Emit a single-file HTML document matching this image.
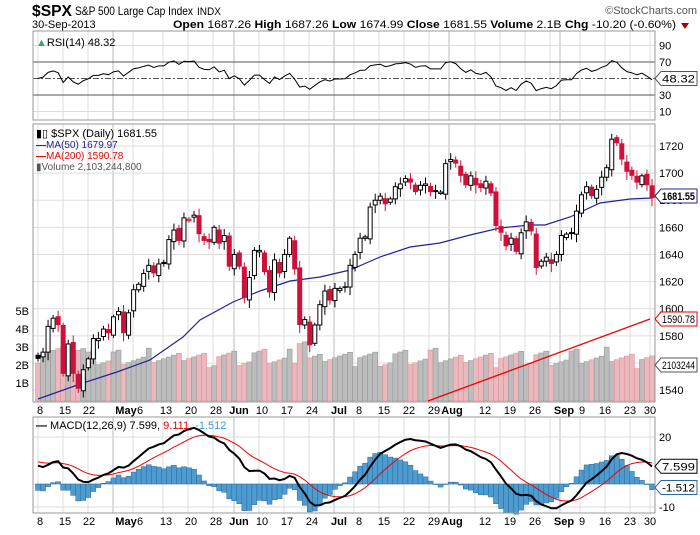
<!DOCTYPE html>
<html><head><meta charset="utf-8"><style>
body{margin:0;background:#fff;width:700px;height:530px;overflow:hidden;font-family:"Liberation Sans",Arial,sans-serif}
svg text{font-family:"Liberation Sans",Arial,sans-serif}
</style></head><body>
<svg id="s" width="700" height="530" xmlns="http://www.w3.org/2000/svg"></svg>
<script>
const C=[1563,1568,1587,1593,1588,1552,1574,1552,1541,1555,1563,1578,1578,1585,1582,1594,1598,
1582,1597,1614,1618,1626,1632,1626,1633,1633,1651,1658,1650,1667,1666,1669,1655,1650,1649,1660,1648,1654,1631,
1640,1631,1608,1623,1643,1643,1627,1612,1636,1626,1640,1652,1629,1588,1592,1573,1588,1603,1613,1606,
1615,1615,1616,1632,1640,1652,1653,1675,1680,1683,1677,1681,1690,1692,1696,1693,1686,1691,1692,1686,1686,1686,
1707,1710,1707,1698,1691,1698,1691,1689,1694,1685,1661,1656,1646,1652,1642,1656,1664,1657,1630,1635,1638,1633,
1640,1654,1655,1655,1672,1684,1690,1683,1688,1697,1704,1725,1722,1710,1701,1698,1693,1698,1691,1681.55];
const N=C.length;
const X=i=>38+i*(614/(N-1));
const Y=p=>146+(1720-p)*1.356;
let s='';
const L=(x1,y1,x2,y2,c,w,d)=>s+=`<line x1="${x1}" y1="${y1}" x2="${x2}" y2="${y2}" stroke="${c}" stroke-width="${w||1}"${d?` stroke-dasharray="${d}"`:''}/>`;
const T=(x,y,t,o)=>s+=`<text x="${x}" y="${y}" font-size="${(o&&o.fs)||11}" fill="${(o&&o.c)||'#000'}"${o&&o.b?' font-weight="bold"':''}${o&&o.a?` text-anchor="${o.a}"`:''}${o&&o.tl?` textLength="${o.tl}" lengthAdjust="spacingAndGlyphs"`:''}>${t}</text>`;
// header
T(32,16,'$SPX',{fs:16,b:1,tl:40});T(75,15,'S&amp;P 500 Large Cap Index',{fs:12,tl:118});T(197,15,'INDX',{fs:11,tl:24});
T(697,14,'©StockCharts.com',{fs:11,c:'#555',a:'end'});
T(32,28,'30-Sep-2013',{fs:11});
T(173,28,'<tspan font-weight="bold">Open</tspan> 1687.26 <tspan font-weight="bold">High</tspan> 1687.26 <tspan font-weight="bold">Low</tspan> 1674.99 <tspan font-weight="bold">Close</tspan> 1681.55 <tspan font-weight="bold">Volume</tspan> 2.1B <tspan font-weight="bold">Chg</tspan> -10.20 (-0.60%)',{fs:11,tl:503});
s+='<path d="M681,23 L689,23 L685,29Z" fill="#a00"/>';
// panels
const P=[[31,120],[124,402],[417,513]];
const wk=[38,63,88,113,133,163,188,213,234,259,284,309,334,354,379,404,429,449,475,500,525,550,560,580,605,630,650];
const months=[113,234,334,449,560];
P.forEach(([t,b])=>{
 wk.forEach(x=>L(x,t,x,b,months.includes(x)?'#bbb':'#ddd',1));
});
[45.5,111.5].forEach(y=>L(33,y,655,y,'#ddd'));
L(33,62,655,62,'#555');L(33,95,655,95,'#555');L(33,78.5,655,78.5,'#555',1,'6,2,2,2');
for(let p=1540;p<=1740;p+=20){if(Y(p)>124)L(33,Y(p),655,Y(p),'#ddd');}
L(33,437,655,437,'#ddd');L(33,484,655,484,'#ddd');L(33,507,655,507,'#ddd');
// volume
for(let i=0;i<N;i++){
 const up=i==0?false:C[i]>=C[i-1];
 let v=1.8+((i*37)%17)/17*0.9+((i*13)%7)/7*0.4; if(i<10)v+=0.3; if(i==52||i==53)v+=1.0;
 const h=v*18;const x=X(i)-2.5;
 s+=`<rect x="${x}" y="${401-h}" width="5" height="${h}" fill="${up?'#bdbdbd':'#eab8bd'}" stroke="${up?'#9a9a9a':'#d8959c'}" stroke-width="0.6"/>`;
}
const ma=[[38,399],[83,383],[117,372],[150,360],[183,337],[200,320],[233,302],[260,291],[290,281],[320,277],[350,270],[380,257],[410,247],[440,243],[470,235],[500,228],[530,225],[545,225],[570,217],[600,203],[630,199],[652,198]];
s+=`<polyline points="${ma.map(p=>p.join(',')).join(' ')}" fill="none" stroke="#22229a" stroke-width="1.2"/>`;
L(428,401,650,319,'#e00',1.3);
// candles
for(let i=0;i<N;i++){
 const o=i==0?1566:C[i-1]+(((i*5)%3)-1)*1.5,c=C[i];
 const r=2+((i*7)%5);
 const hi=Math.max(o,c)+r*0.8,lo=Math.min(o,c)-r;
 const red=i>0&&c<C[i-1];const col=red?'#d0103a':'#000';
 const x=X(i);
 L(x,Y(hi),x,Y(lo),col,1);
 const y1=Y(Math.max(o,c)),y2=Y(Math.min(o,c));
 const hh=Math.max(1.5,y2-y1);
 if(c>=o)s+=`<rect x="${x-2}" y="${y1}" width="4" height="${hh}" fill="#fff" stroke="${col}" stroke-width="1"/>`;
 else s+=`<rect x="${x-2.5}" y="${y1}" width="5" height="${hh}" fill="${col}"/>`;
}
// RSI
let ag=6,al=6,rs=[];
for(let i=0;i<N;i++){const d=i==0?0:C[i]-C[i-1];ag=(ag*13+Math.max(d,0))/14;al=(al*13+Math.max(-d,0))/14;rs.push(100-100/(1+ag/al));}
s+=`<polyline points="${rs.map((v,i)=>X(i)+','+(95-(v-30)*0.825)).join(' ')}" fill="none" stroke="#000" stroke-width="1"/>`;
// MACD
let e12=1569,e26=1560,sg=10,M=[],S=[];
for(let i=0;i<N;i++){e12+=(C[i]-e12)*2/13;e26+=(C[i]-e26)*2/27;const m=e12-e26;sg+=(m-sg)*0.2;M.push(m);S.push(sg);}
const MY=v=>484-v*2.33;
for(let i=0;i<N;i++){const h=(M[i]-S[i])*1.6;const y=Math.min(MY(h),484),hh=Math.abs(h*2.33);
 s+=`<rect x="${X(i)-2.5}" y="${y}" width="5" height="${Math.max(hh,0.5)}" fill="#4e9bd0" stroke="#2a6a9a" stroke-width="0.5"/>`;}
s+=`<polyline points="${S.map((v,i)=>X(i)+','+MY(v)).join(' ')}" fill="none" stroke="#e00" stroke-width="1"/>`;
s+=`<polyline points="${M.map((v,i)=>X(i)+','+MY(v)).join(' ')}" fill="none" stroke="#000" stroke-width="2"/>`;
P.forEach(([t,b])=>s+=`<rect x="33" y="${t}" width="622" height="${b-t}" fill="none" stroke="#999"/>`);
[['90',45.5],['70',62],['30',95],['10',111.5]].forEach(([t,y])=>T(659,y+4,t,{fs:11}));
for(let p=1540;p<=1720;p+=20){if(p!=1560)T(659,Y(p)+4,p,{fs:11});}
[['20',437],['-10',507]].forEach(([t,y])=>T(659,y+4,t,{fs:11}));
const box=(y,t,c,b)=>{s+=`<path d="M655,${y} L661,${y-7} L697,${y-7} L697,${y+7} L661,${y+7}Z" fill="#fff" stroke="${c}"/>`;T(662,y+4,t,{fs:11,b:b,c:'#000',tl:33});};
box(78.5,'48.32','#555');box(196,'1681.55','#22229a',1);box(319,'1590.78','#e00');box(365,'2103244','#555');
box(MY(7.599),'7.599','#000');box(MY(-1.512),'-1.512','#2a6a9a');
[['5B',311],['4B',329],['3B',347],['2B',365],['1B',383]].forEach(([t,y])=>T(29,y+4,t,{fs:11,a:'end'}));
T(36,46,'<tspan fill="#3a6">▲</tspan>RSI(14) 48.32',{fs:11});
T(36,137,'▮▯ $SPX (Daily) 1681.55',{fs:11});
T(36,148,'<tspan font-weight="bold">—</tspan>MA(50) 1679.97',{fs:10,c:'#22229a'});
T(36,159,'<tspan font-weight="bold">—</tspan>MA(200) 1590.78',{fs:10,c:'#e00'});
T(36,170,'▮Volume 2,103,244,800',{fs:10,c:'#555'});
T(36,429,'<tspan font-weight="bold">—</tspan> MACD(12,26,9) 7.599, <tspan fill="#e00">9.111</tspan>, <tspan fill="#3a9ad0">-1.512</tspan>',{fs:11});
const dl=[[40,'8'],[65,'15'],[89,'22'],[126,'May',1],[140,'6'],[166,'13'],[191,'20'],[216,'28'],[239,'Jun',1],[262,'10'],[287,'17'],[312,'24'],[339,'Jul',1],[359,'8'],[384,'15'],[409,'22'],[434,'29'],[452,'Aug',1],[485,'12'],[510,'19'],[535,'26'],[564,'Sep',1],[582,'9'],[605,'16'],[630,'23'],[650,'30']];
[414,525].forEach(y=>dl.forEach(([x,t,b])=>T(x,y,t,{fs:11,b:b,a:'middle'})));
document.getElementById('s').innerHTML=s;
</script>
</body></html>
